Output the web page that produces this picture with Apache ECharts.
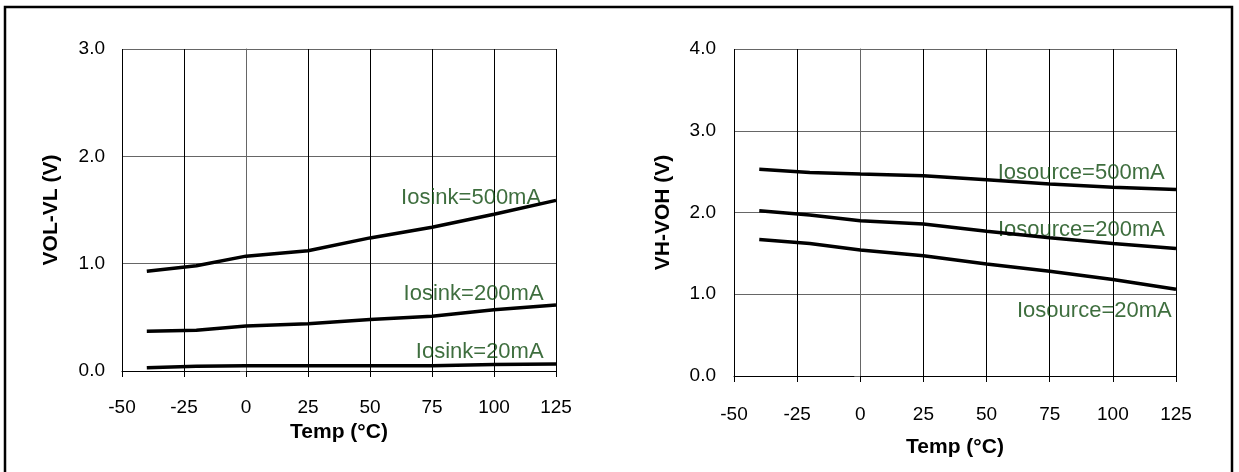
<!DOCTYPE html>
<html>
<head>
<meta charset="utf-8">
<script src="https://cdn.jsdelivr.net/npm/echarts@6/dist/echarts.min.js"></script>
<style>
  html, body { margin: 0; padding: 0; background: #fff; }
  #main { width: 1239px; height: 472px; }
</style>
</head>
<body>
<div id="main"></div>
<script>
var myChart = echarts.init(document.getElementById('main'));

// temperature points (°C)
var temps = [-40, -20, 0, 25, 50, 75, 100, 125];

// left chart: VOL-VL (V)
var sink500 = [0.93, 0.98, 1.07, 1.12, 1.24, 1.34, 1.46, 1.59];
var sink200 = [0.37, 0.38, 0.42, 0.44, 0.48, 0.51, 0.57, 0.615];
var sink20 = [0.03, 0.045, 0.05, 0.05, 0.05, 0.05, 0.06, 0.065];

// right chart: VH-VOH (V)
var source500 = [2.53, 2.49, 2.47, 2.45, 2.40, 2.35, 2.31, 2.28];
var source200 = [2.02, 1.97, 1.90, 1.86, 1.77, 1.69, 1.62, 1.56];
var source20 = [1.67, 1.62, 1.54, 1.47, 1.37, 1.28, 1.18, 1.06];

// curve labels: [temp, volt, text]
var sinkLabels = [[119, 1.61, 'Iosink=500mA'], [120, 0.72, 'Iosink=200mA'], [120, 0.18, 'Iosink=20mA']];
var sourceLabels = [[120.5, 2.48, 'Iosource=500mA'], [120.6, 1.79, 'Iosource=200mA'], [123.3, 0.8, 'Iosource=20mA']];

var xTicks = [-50, -25, 0, 25, 50, 75, 100, 125];

function pairs(ys) {
    return temps.map(function (t, i) { return [t, ys[i]]; });
}

function curve(ys, idx) {
    return {
        type: 'line',
        xAxisIndex: idx,
        yAxisIndex: idx,
        data: pairs(ys),
        symbol: 'none',
        lineStyle: { color: '#000', width: 3.5 },
        z: 3
    };
}

function labelSeries(list, idx) {
    return {
        type: 'scatter',
        xAxisIndex: idx,
        yAxisIndex: idx,
        symbolSize: 0,
        silent: true,
        z: 2,
        data: list.map(function (l) { return { value: [l[0], l[1]], name: l[2] }; }),
        label: {
            show: true,
            position: [0, 0],
            align: 'right',
            verticalAlign: 'middle',
            formatter: '{b}',
            color: '#0e4a0e',
            fontFamily: 'Liberation Sans',
            fontSize: 22
        }
    };
}

function xAxis(idx, labelMargin, nameGap) {
    return {
        type: 'value',
        gridIndex: idx,
        min: xTicks[0],
        max: xTicks[xTicks.length - 1],
        interval: 25,
        name: 'Temp (°C)',
        nameLocation: 'middle',
        nameGap: nameGap,
        nameTextStyle: { color: '#000', fontFamily: 'Liberation Sans', fontWeight: 'bold', fontSize: 21 },
        axisLine: { lineStyle: { color: '#000', width: 1 } },
        axisTick: { show: true, inside: false, length: 6, lineStyle: { color: '#000' } },
        axisLabel: { color: '#000', fontFamily: 'Liberation Sans', fontSize: 19, margin: labelMargin },
        splitLine: { show: true, lineStyle: { color: '#000', width: 1 } }
    };
}

function yAxis(idx, max, title, labelMargin, nameGap) {
    return {
        type: 'value',
        gridIndex: idx,
        min: 0,
        max: max,
        interval: 1,
        name: title,
        nameLocation: 'middle',
        nameGap: nameGap,
        nameTextStyle: { color: '#000', fontFamily: 'Liberation Sans', fontWeight: 'bold', fontSize: 21 },
        axisLine: { show: true, lineStyle: { color: '#666', width: 1 } },
        axisTick: { show: true, inside: false, length: 6, lineStyle: { color: '#666' } },
        axisLabel: {
            color: '#000', fontFamily: 'Liberation Sans', fontSize: 19, margin: labelMargin,
            formatter: function (v) { return v.toFixed(1); }
        },
        splitLine: { show: true, lineStyle: { color: '#666', width: 1 } }
    };
}

var option = {
    backgroundColor: '#fff',
    animation: false,
    graphic: [
        {
            type: 'rect',
            shape: { x: 5, y: 7, width: 1227, height: 490 },
            style: { fill: 'none', stroke: '#000', lineWidth: 2.5 },
            z: 0
        }
    ],
    grid: [
        { left: 122, right: 683, top: 49, bottom: 101 },
        { left: 734, right: 63, top: 49, bottom: 96 }
    ],
    xAxis: [xAxis(0, 27, 51), xAxis(1, 29, 61)],
    yAxis: [yAxis(0, 3, 'VOL-VL (V)', 17, 60), yAxis(1, 4, 'VH-VOH (V)', 18, 60)],
    series: [
        curve(sink500, 0), curve(sink200, 0), curve(sink20, 0),
        curve(source500, 1), curve(source200, 1), curve(source20, 1),
        labelSeries(sinkLabels, 0), labelSeries(sourceLabels, 1)
    ]
};

myChart.setOption(option);
</script>
</body>
</html>
